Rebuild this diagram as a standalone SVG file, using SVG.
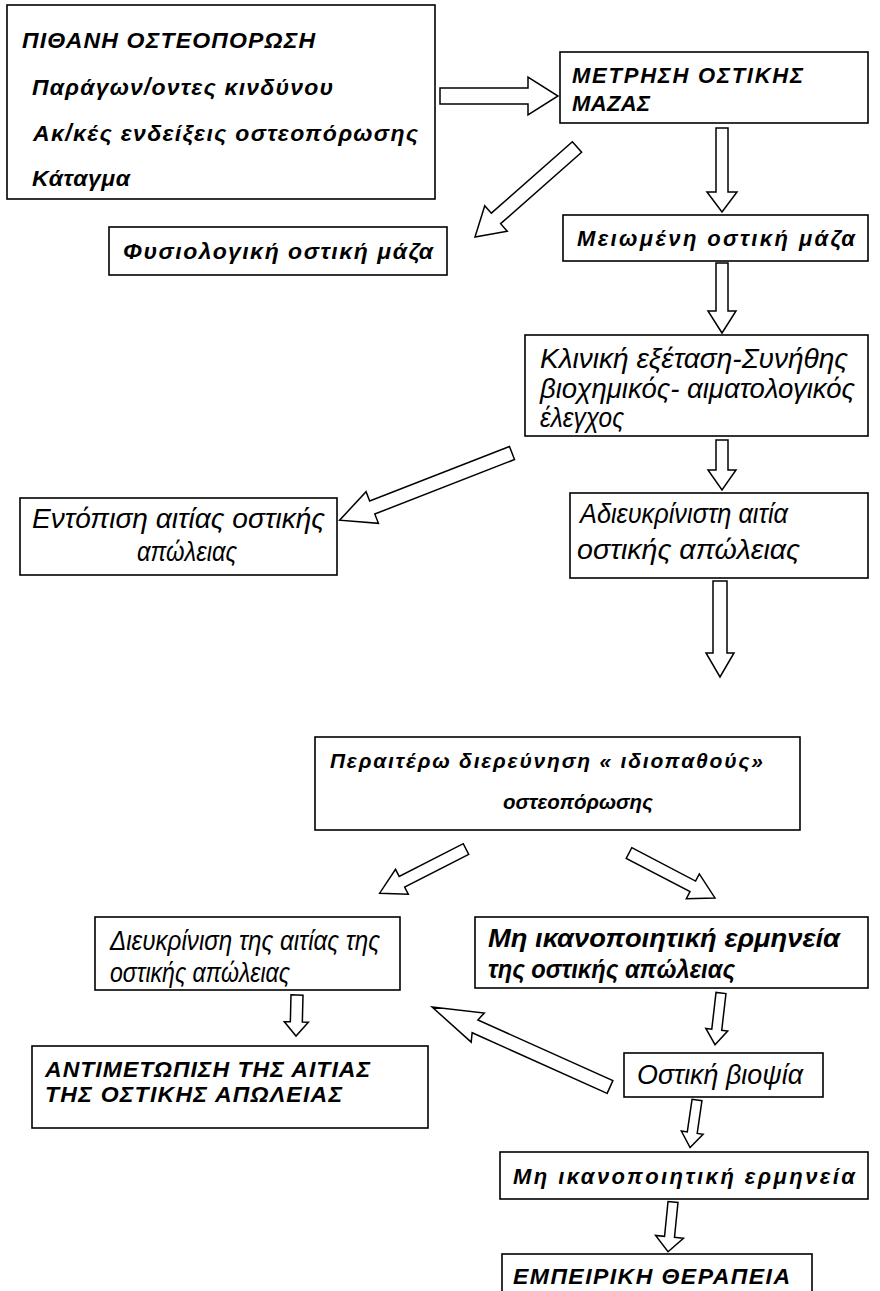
<svg xmlns="http://www.w3.org/2000/svg" width="880" height="1291" viewBox="0 0 880 1291">
<style>
.box{fill:#fff;stroke:#000;stroke-width:1.6}
.arr{fill:#fff;stroke:#000;stroke-width:1.5;stroke-linejoin:miter}
.t{font-family:"Liberation Sans",Arial,sans-serif;font-style:italic;fill:#000}
.b{font-weight:bold;font-size:22px}
.b23{font-weight:bold;font-size:23px}
.b21{font-weight:bold;font-size:21px}
.n{font-weight:normal;font-size:27px}
.nb{font-weight:bold;font-size:26px}
</style>
<rect width="880" height="1291" fill="#fff"/>
<g id="connectors">
<polygon class="arr" transform="translate(440,96)" points="0,-8 88,-8 88,-19 118,0 88,19 88,8 0,8"/>
<polygon class="arr" transform="translate(722,128) rotate(90)" points="0,-6 64,-6 64,-15 84,0 64,15 64,6 0,6"/>
<polygon class="arr" transform="translate(577,147) rotate(138.6)" points="0,-7 108,-7 108,-17 136,0 108,17 108,7 0,7"/>
<polygon class="arr" transform="translate(722,263) rotate(90)" points="0,-6 48,-6 48,-14 70,0 48,14 48,6 0,6"/>
<polygon class="arr" transform="translate(722,440) rotate(90)" points="0,-6 30,-6 30,-14 50,0 30,14 30,6 0,6"/>
<polygon class="arr" transform="translate(512,453) rotate(158.7)" points="0,-7 150,-7 150,-17 185,0 150,17 150,7 0,7"/>
<polygon class="arr" transform="translate(720,581) rotate(90)" points="0,-7 72,-7 72,-14 96,0 72,14 72,7 0,7"/>
<polygon class="arr" transform="translate(466,849) rotate(152.9)" points="0,-6 72,-6 72,-14 97,0 72,14 72,6 0,6"/>
<polygon class="arr" transform="translate(629,853) rotate(27.6)" points="0,-6 72,-6 72,-14 97,0 72,14 72,6 0,6"/>
<polygon class="arr" transform="translate(297,995) rotate(91.4)" points="0,-6 27,-6 27,-12 41,0 27,12 27,6 0,6"/>
<polygon class="arr" transform="translate(721,993) rotate(96.6)" points="0,-5 37,-5 37,-11 52,0 37,11 37,5 0,5"/>
<polygon class="arr" transform="translate(697,1100) rotate(98.3)" points="0,-5 33,-5 33,-11 48,0 33,11 33,5 0,5"/>
<polygon class="arr" transform="translate(673,1202) rotate(95.7)" points="0,-5 35,-5 35,-14 50,0 35,14 35,5 0,5"/>
<polygon class="arr" transform="translate(610,1087) rotate(-155.8)" points="0,-7 148,-7 145,-16 195,0 145,16 148,7 0,7"/>
</g>
<g id="n1">
<rect class="box" x="7" y="5" width="428" height="194"/>
<text class="t b23" x="22" y="48" textLength="293" lengthAdjust="spacing">ΠΙΘΑΝΗ ΟΣΤΕΟΠΟΡΩΣΗ</text>
<text class="t b23" x="32" y="95" textLength="301" lengthAdjust="spacing">Παράγων/οντες κινδύνου</text>
<text class="t b23" x="33" y="141" textLength="385" lengthAdjust="spacing">Ακ/κές ενδείξεις οστεοπόρωσης</text>
<text class="t b23" x="32" y="186" textLength="98" lengthAdjust="spacing">Κάταγμα</text>
</g>
<g id="n2">
<rect class="box" x="560" y="52" width="308" height="71"/>
<text class="t b" x="572" y="83" textLength="231" lengthAdjust="spacing">ΜΕΤΡΗΣΗ ΟΣΤΙΚΗΣ</text>
<text class="t b" x="572" y="111" textLength="78" lengthAdjust="spacing">ΜΑΖΑΣ</text>
</g>
<g id="n3">
<rect class="box" x="109" y="227" width="338" height="48"/>
<text class="t b23" x="123" y="259" textLength="310" lengthAdjust="spacing">Φυσιολογική οστική μάζα</text>
</g>
<g id="n4">
<rect class="box" x="563" y="215" width="305" height="46"/>
<text class="t b" x="577" y="246" textLength="278" lengthAdjust="spacing">Μειωμένη οστική μάζα</text>
</g>
<g id="n5">
<rect class="box" x="525" y="335" width="343" height="101"/>
<text class="t n" x="540" y="368" textLength="308" lengthAdjust="spacingAndGlyphs">Κλινική εξέταση-Συνήθης</text>
<text class="t n" x="540" y="398" textLength="315" lengthAdjust="spacingAndGlyphs">βιοχημικός- αιματολογικός</text>
<text class="t n" x="540" y="427" textLength="84" lengthAdjust="spacingAndGlyphs">έλεγχος</text>
</g>
<g id="n6">
<rect class="box" x="20" y="498" width="317" height="77"/>
<text class="t n" x="32" y="528" textLength="293" lengthAdjust="spacingAndGlyphs">Εντόπιση αιτίας οστικής</text>
<text class="t n" x="137" y="561" textLength="100" lengthAdjust="spacingAndGlyphs">απώλειας</text>
</g>
<g id="n7">
<rect class="box" x="570" y="493" width="298" height="85"/>
<text class="t n" x="580" y="523" textLength="208" lengthAdjust="spacingAndGlyphs">Αδιευκρίνιστη αιτία</text>
<text class="t n" x="577" y="559" textLength="223" lengthAdjust="spacingAndGlyphs">οστικής απώλειας</text>
</g>
<g id="n8">
<rect class="box" x="315" y="737" width="485" height="93"/>
<text class="t b21" x="330" y="768" textLength="433" lengthAdjust="spacing">Περαιτέρω διερεύνηση « ιδιοπαθούς»</text>
<text class="t b21" x="503" y="809" textLength="150" lengthAdjust="spacingAndGlyphs">οστεοπόρωσης</text>
</g>
<g id="n9">
<rect class="box" x="95" y="917" width="305" height="73"/>
<text class="t n" x="110" y="950" textLength="270" lengthAdjust="spacingAndGlyphs">Διευκρίνιση της αιτίας της</text>
<text class="t n" x="110" y="982" textLength="180" lengthAdjust="spacingAndGlyphs">οστικής απώλειας</text>
</g>
<g id="n10">
<rect class="box" x="475" y="917" width="393" height="71"/>
<text class="t nb" x="488" y="947" textLength="352" lengthAdjust="spacingAndGlyphs">Μη ικανοποιητική  ερμηνεία</text>
<text class="t nb" x="488" y="978" textLength="247" lengthAdjust="spacingAndGlyphs">της οστικής απώλειας</text>
</g>
<g id="n11">
<rect class="box" x="32" y="1046" width="396" height="82"/>
<text class="t b23" x="45" y="1077" textLength="325" lengthAdjust="spacing">ΑΝΤΙΜΕΤΩΠΙΣΗ ΤΗΣ ΑΙΤΙΑΣ</text>
<text class="t b23" x="45" y="1102" textLength="297" lengthAdjust="spacing">ΤΗΣ ΟΣΤΙΚΗΣ ΑΠΩΛΕΙΑΣ</text>
</g>
<g id="n12">
<rect class="box" x="624" y="1053" width="199" height="44"/>
<text class="t n" x="637" y="1084" textLength="166" lengthAdjust="spacingAndGlyphs">Οστική βιοψία</text>
</g>
<g id="n13">
<rect class="box" x="500" y="1152" width="368" height="47"/>
<text class="t b" x="513" y="1184" textLength="342" lengthAdjust="spacing">Μη ικανοποιητική ερμηνεία</text>
</g>
<g id="n14">
<rect class="box" x="502" y="1254" width="310" height="60"/>
<text class="t b23" x="513" y="1284" textLength="277" lengthAdjust="spacing">ΕΜΠΕΙΡΙΚΗ ΘΕΡΑΠΕΙΑ</text>
</g>
</svg>
